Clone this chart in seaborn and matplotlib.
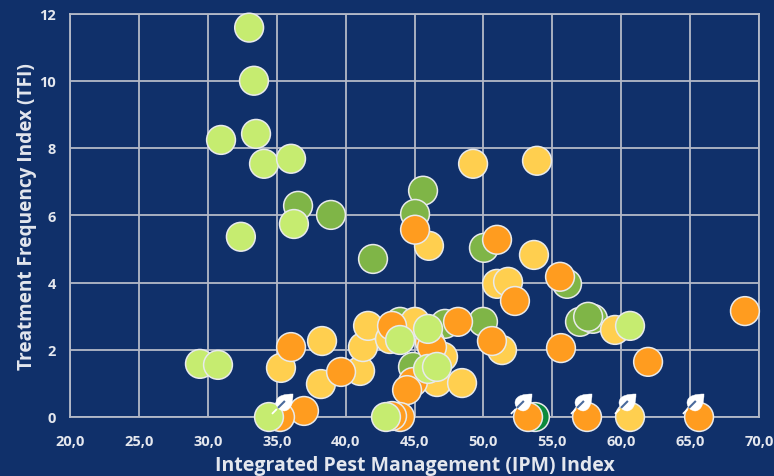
import pandas as pd
import matplotlib
matplotlib.use("Agg")
import matplotlib.pyplot as plt
import seaborn as sns
from matplotlib.path import Path

# valores
lime_x = [33.0, 33.35, 33.5, 30.96, 34.08, 36.04, 32.4, 36.25, 29.43, 30.74, 34.44, 42.93, 43.95, 45.98, 45.98, 46.63, 60.64]
lime_y = [11.58, 10.0, 8.42, 8.24, 7.53, 7.68, 5.36, 5.74, 1.58, 1.55, 0, 0, 2.29, 2.62, 1.43, 1.49, 2.71]
green_x = [36.55, 38.94, 45.62, 45.04, 41.99, 50.04, 49.97, 56.07, 57.01, 57.95, 57.6, 43.95, 44.89, 47.21]
green_y = [6.28, 6.01, 6.73, 6.04, 4.70, 5.03, 2.83, 3.96, 2.83, 2.92, 2.98, 2.83, 1.49, 2.77]
dark_x = [53.74]
dark_y = [0]
yellow_x = [49.25, 53.89, 46.05, 53.67, 50.99, 51.79, 35.31, 38.29, 38.21, 41.05, 41.26, 41.63, 43.22, 45.04, 47.07, 46.63, 48.45, 51.35, 59.55, 60.64]
yellow_y = [7.53, 7.62, 5.09, 4.82, 3.96, 4.02, 1.46, 2.26, 0.98, 1.37, 2.08, 2.71, 2.32, 2.83, 1.79, 1.04, 1.01, 1.99, 2.59, 0]
orange_x = [36.04, 36.98, 35.24, 39.67, 43.37, 44.89, 44.46, 43.95, 43.37, 46.12, 46.27, 48.16, 50.62, 52.29, 55.56, 45.04, 50.99, 55.63, 61.95, 68.98, 53.24, 57.52, 65.65]
orange_y = [2.08, 0.18, 0, 1.34, 2.71, 1.04, 0.80, 0, 0.03, 2.23, 2.08, 2.83, 2.26, 3.45, 4.17, 5.57, 5.27, 2.05, 1.64, 3.15, 0, 0, 0]
leaf_x = [35.53, 52.87, 57.23, 60.42, 65.35]
leaf_y = [0.45, 0.45, 0.45, 0.45, 0.45]
x_ticks = [20, 25, 30, 35, 40, 45, 50, 55, 60, 65, 70]
y_ticks = [0, 2, 4, 6, 8, 10, 12]

BG = "#10306a"
TXT = "#e4e7ee"
GRID = "#b4bac8"

df = pd.concat([
    pd.DataFrame({"ipm": dark_x, "tfi": dark_y, "grupo": "dark"}),
    pd.DataFrame({"ipm": green_x, "tfi": green_y, "grupo": "green"}),
    pd.DataFrame({"ipm": yellow_x, "tfi": yellow_y, "grupo": "yellow"}),
    pd.DataFrame({"ipm": orange_x, "tfi": orange_y, "grupo": "orange"}),
    pd.DataFrame({"ipm": lime_x, "tfi": lime_y, "grupo": "lime"}),
], ignore_index=True)
colores = {"dark": "#0b8a3c", "green": "#7fb547", "yellow": "#ffcf4f", "orange": "#ff9c1f", "lime": "#c6ec70"}

sns.set_theme(style="white")
plt.rcParams["font.family"] = ["Open Sans", "DejaVu Sans"]

fig = plt.figure(figsize=(7.74, 4.77), dpi=100, facecolor=BG)
ax = fig.add_axes([70 / 774, 1 - 418 / 477, 689 / 774, 403.5 / 477], facecolor=BG)

sns.scatterplot(data=df, x="ipm", y="tfi", hue="grupo", palette=colores, s=430,
                edgecolor="#e8eaec", linewidth=1.1, legend=False, clip_on=False, zorder=3, ax=ax)

# hoja blanca sobre los puntos con TFI 0
hoja = Path(
    [(1, 1), (0.2, 1), (-0.95, 0.9), (-1, 0), (-1, -0.6), (-0.5, -1), (0, -1), (0.8, -0.9), (1, 0.1), (1, 1), (1, 1)],
    [Path.MOVETO, Path.CURVE4, Path.CURVE4, Path.CURVE4, Path.CURVE4, Path.CURVE4, Path.CURVE4, Path.CURVE4, Path.CURVE4, Path.CURVE4, Path.CLOSEPOLY],
)
vena = Path([(-1, -1), (0.15, 0.15)], [Path.MOVETO, Path.LINETO])
tallo = Path([(-1, -1), (-0.6, -0.6)], [Path.MOVETO, Path.LINETO])
sns.scatterplot(x=leaf_x, y=leaf_y, marker=hoja, s=150, color="white", edgecolor="white",
                linewidth=0.3, legend=False, clip_on=False, zorder=4, ax=ax)
ax.scatter(leaf_x, leaf_y, marker=vena, s=75, facecolors="none", edgecolors="#4a6a9c",
           linewidths=1.5, clip_on=False, zorder=5)
ax.scatter(leaf_x, leaf_y, marker=tallo, s=300, facecolors="none", edgecolors="white",
           linewidths=1.3, clip_on=False, zorder=5)

ax.set_xlim(20, 70)
ax.set_ylim(0, 12)
ax.set_xticks(x_ticks)
ax.set_yticks(y_ticks)
ax.set_xticklabels([f"{v:.1f}".replace(".", ",") for v in x_ticks])
ax.set_axisbelow(True)
ax.grid(True, color=GRID, linewidth=1.3)
for s in ax.spines.values():
    s.set_color(GRID)
    s.set_linewidth(1.3)
ax.tick_params(colors=TXT, length=0, labelsize=10.5)
ax.tick_params(axis="x", pad=12)
ax.tick_params(axis="y", pad=10)
for t in ax.get_xticklabels() + ax.get_yticklabels():
    t.set_fontweight("bold")

ax.set_xlabel("Integrated Pest Management (IPM) Index", color=TXT, fontsize=14, fontweight="bold", labelpad=5)
ax.set_ylabel("Treatment Frequency Index (TFI)", color=TXT, fontsize=13.7, fontweight="bold", labelpad=2)

fig.savefig("out.png", dpi=100, facecolor=BG)
